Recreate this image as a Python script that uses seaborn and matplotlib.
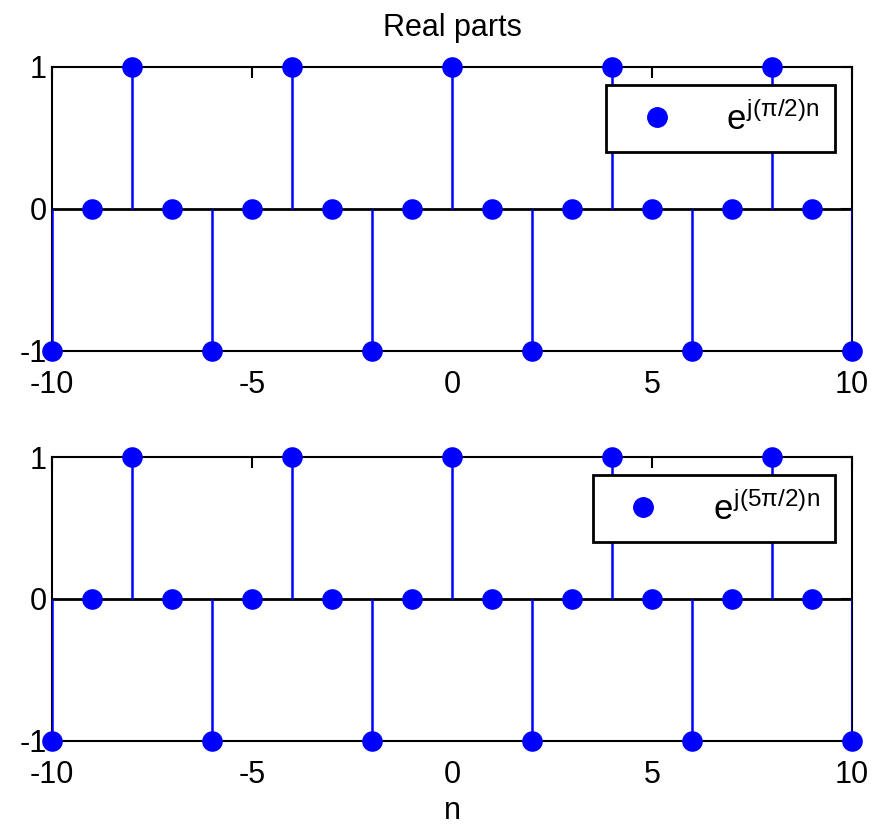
import numpy as np
import pandas as pd
import matplotlib
matplotlib.use("Agg")
import matplotlib.pyplot as plt
from matplotlib.lines import Line2D
import seaborn as sns

# sample index and real parts of the two complex exponentials
n = [-10, -9, -8, -7, -6, -5, -4, -3, -2, -1, 0, 1, 2, 3, 4, 5, 6, 7, 8, 9, 10]
real_a = [-1, 0, 1, 0, -1, 0, 1, 0, -1, 0, 1, 0, -1, 0, 1, 0, -1, 0, 1, 0, -1]
real_b = [-1, 0, 1, 0, -1, 0, 1, 0, -1, 0, 1, 0, -1, 0, 1, 0, -1, 0, 1, 0, -1]
labels = [r"$e^{j(\pi/2)n}$", r"$e^{j(5\pi/2)n}$"]
x_ticks = [-10, -5, 0, 5, 10]
y_ticks = [-1, 0, 1]

sns.set_style("white")
plt.rcParams["font.family"] = ["Liberation Sans", "DejaVu Sans"]
plt.rcParams["mathtext.fontset"] = "custom"
plt.rcParams["mathtext.rm"] = "Liberation Sans"
plt.rcParams["mathtext.it"] = "Liberation Sans"
plt.rcParams["mathtext.bf"] = "Liberation Sans"
plt.rcParams["axes.unicode_minus"] = False
plt.rcParams["text.color"] = "black"
plt.rcParams["axes.labelcolor"] = "black"

fig = plt.figure(figsize=(8.73, 8.27), dpi=100)
axes = [fig.add_axes([0.0596, 0.5756, 0.9164, 0.3434]),
        fig.add_axes([0.0596, 0.1040, 0.9164, 0.3434])]

blue = "#0000FF"
for ax, vals, lab in zip(axes, [real_a, real_b], labels):
    df = pd.DataFrame({"n": n, "v": vals})
    ax.axhline(0, color="black", lw=2, zorder=2)
    ax.vlines(df["n"], 0, df["v"], color=blue, lw=1.8, zorder=3)
    sns.scatterplot(data=df, x="n", y="v", ax=ax, color=blue, s=220,
                    edgecolor=blue, linewidth=0, zorder=4, legend=False,
                    clip_on=False)
    ax.set_xlim(-10, 10)
    ax.set_ylim(-1, 1)
    ax.set_xticks(x_ticks)
    ax.set_yticks(y_ticks)
    ax.set_xlabel("")
    ax.set_ylabel("")
    ax.tick_params(direction="in", length=8, width=1.5, labelsize=22,
                   top=True, right=True, colors="black")
    ax.tick_params(axis="x", pad=14)
    ax.tick_params(axis="y", pad=4)
    for s in ax.spines.values():
        s.set_color("black")
        s.set_linewidth(1.5)
    handle = Line2D([], [], marker="o", ls="none", color=blue, markersize=14)
    leg = ax.legend([handle], [lab], loc="upper right", fontsize=25,
                    frameon=True, fancybox=False, edgecolor="black",
                    framealpha=1, borderpad=0.45, handletextpad=1.0,
                    borderaxespad=0, bbox_to_anchor=(0.979, 0.935))
    leg.get_frame().set_linewidth(2)

axes[0].set_title("Real parts", fontsize=22, pad=22, color="black")
axes[1].set_xlabel("n", fontsize=22, labelpad=4)

fig.savefig("out.png", dpi=100)
